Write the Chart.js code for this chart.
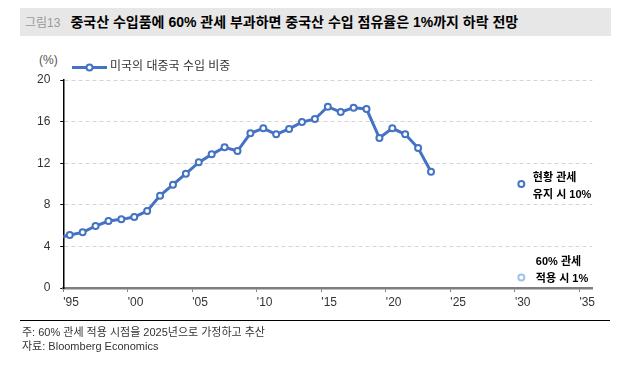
<!DOCTYPE html>
<html>
<head>
<meta charset="utf-8">
<script src="https://cdn.jsdelivr.net/npm/chart.js@4/dist/chart.umd.min.js"></script>
<style>
body{margin:0;width:632px;height:366px;background:#fff;position:relative;overflow:hidden;
  font-family:"Liberation Sans","Noto Sans CJK KR",sans-serif}
#bar{position:absolute;left:20px;top:8px;width:591px;height:28px;background:#e7e7e7}
#title{position:absolute;left:25px;top:8px;height:28px;line-height:28px;font-size:14px;font-weight:bold;color:#000;white-space:nowrap}
#title span{color:#9a9a9a;font-weight:normal;font-size:12px;margin-right:10px}
#unit{position:absolute;left:39px;top:53px;font-size:12px;color:#555}
#rule{position:absolute;left:20px;top:320px;width:590px;height:1px;background:#000}
#note{position:absolute;left:22px;top:325px;font-size:11px;line-height:14px;color:#333}
canvas{position:absolute;left:0;top:0}
</style>
</head>
<body>
<div id="bar"></div>
<div id="title"><span>그림13</span>중국산 수입품에 60% 관세 부과하면 중국산 수입 점유율은 1%까지 하락 전망</div>
<div id="unit">(%)</div>
<canvas id="chart" width="632" height="366"></canvas>
<div id="rule"></div>
<div id="note">주: 60% 관세 적용 시점을 2025년으로 가정하고 추산<br>자료: Bloomberg Economics</div>
<script>
// 미국의 대중국 수입 비중 (%), 1994년 값은 축 밖에서 잘림
var years = [1994, 1995, 1996, 1997, 1998, 1999, 2000, 2001, 2002, 2003, 2004,
             2005, 2006, 2007, 2008, 2009, 2010, 2011, 2012, 2013, 2014,
             2015, 2016, 2017, 2018, 2019, 2020, 2021, 2022, 2023];
var share = [4.8, 5.1, 5.35, 5.96, 6.44, 6.6, 6.83, 7.4, 8.88, 9.93, 10.99,
             12.08, 12.85, 13.53, 13.17, 14.87, 15.35, 14.78, 15.3, 15.95, 16.25,
             17.43, 16.92, 17.34, 17.21, 14.42, 15.35, 14.78, 13.46, 11.18];
var projYear = 2030;
var keepTariff = 10;   // 현황 관세 유지 시
var tariff60 = 1;      // 60% 관세 적용 시
var xTicks = [1995, 2000, 2005, 2010, 2015, 2020, 2025, 2030, 2035];
var yTicks = [0, 4, 8, 12, 16, 20];

var blue = '#4472c4';
var lightBlue = '#9dc3e6';

var linePoints = [];
for (var i = 0; i < years.length; i++) {
  linePoints.push({x: years[i] + 0.5, y: share[i]});
}

var extras = {
  id: 'extras',
  afterDatasetsDraw: function(chart) {
    var ctx = chart.ctx;
    var xs = chart.scales.x, ys = chart.scales.y;
    ctx.save();
    // legend
    ctx.strokeStyle = blue;
    ctx.lineWidth = 3;
    ctx.beginPath();
    ctx.moveTo(72, 67.5);
    ctx.lineTo(107, 67.5);
    ctx.stroke();
    ctx.beginPath();
    ctx.arc(89.5, 67.5, 3, 0, Math.PI * 2);
    ctx.fillStyle = '#fff';
    ctx.fill();
    ctx.lineWidth = 2;
    ctx.stroke();
    ctx.fillStyle = '#333';
    ctx.font = '12px "Liberation Sans", "Noto Sans CJK KR"';
    ctx.textBaseline = 'middle';
    ctx.fillText('미국의 대중국 수입 비중', 110, 67);

    // annotations
    var px = xs.getPixelForValue(projYear + 0.5);
    ctx.fillStyle = '#000';
    ctx.font = 'bold 11px "Liberation Sans", "Noto Sans CJK KR"';
    var p1 = ys.getPixelForValue(keepTariff);
    ctx.fillText('현황 관세', px + 11.5, p1 - 6.5);
    ctx.fillText('유지 시 10%', px + 11.5, p1 + 10.5);
    var p2 = ys.getPixelForValue(tariff60);
    ctx.fillText('60% 관세', px + 14.5, p2 - 16);
    ctx.fillText('적용 시 1%', px + 14.5, p2 + 1);
    ctx.restore();
  }
};

new Chart(document.getElementById('chart'), {
  type: 'line',
  data: {
    datasets: [{
      label: '미국의 대중국 수입 비중',
      data: linePoints,
      borderColor: blue,
      borderWidth: 3,
      backgroundColor: '#fff',
      pointRadius: 3,
      pointBorderWidth: 2,
      pointBackgroundColor: '#fff',
      pointBorderColor: blue,
      tension: 0
    }, {
      label: '현황 관세 유지 시',
      data: [{x: projYear + 0.5, y: keepTariff}],
      showLine: false,
      pointRadius: 3,
      pointBorderWidth: 2,
      pointBackgroundColor: '#fff',
      pointBorderColor: blue
    }, {
      label: '60% 관세 적용 시',
      data: [{x: projYear + 0.5, y: tariff60}],
      showLine: false,
      pointRadius: 3,
      pointBorderWidth: 2,
      pointBackgroundColor: '#fff',
      pointBorderColor: lightBlue
    }]
  },
  options: {
    responsive: false,
    animation: false,
    layout: {padding: {left: 0, top: 80, right: 39.7, bottom: 48}},
    plugins: {legend: {display: false}, tooltip: {enabled: false}},
    scales: {
      x: {
        type: 'linear',
        min: 1995,
        max: 2036,
        afterBuildTicks: function(s) { s.ticks = xTicks.map(function(v) { return {value: v}; }); },
        afterFit: function(s) { s.height = 30; },
        ticks: {
          align: 'start',
          padding: 3,
          color: '#333',
          font: {size: 12, family: '"Liberation Sans", "Noto Sans CJK KR"'},
          callback: function(v) { return "'" + String(v).slice(2); }
        },
        grid: {drawOnChartArea: false, tickLength: 4, tickColor: '#7f7f7f', tickWidth: 1},
        border: {color: '#7f7f7f', width: 2.5}
      },
      y: {
        min: 0,
        max: 20,
        afterBuildTicks: function(s) { s.ticks = yTicks.map(function(v) { return {value: v}; }); },
        afterFit: function(s) { s.width = 63.3; },
        ticks: {
          padding: 10,
          color: '#333',
          font: {size: 12, family: '"Liberation Sans", "Noto Sans CJK KR"'}
        },
        grid: {color: '#d4d4d4', tickLength: 3, tickColor: '#000', tickBorderDash: []},
        border: {color: '#000', width: 1.5, dash: [4, 3]}
      }
    }
  },
  plugins: [extras]
});
</script>
</body>
</html>
